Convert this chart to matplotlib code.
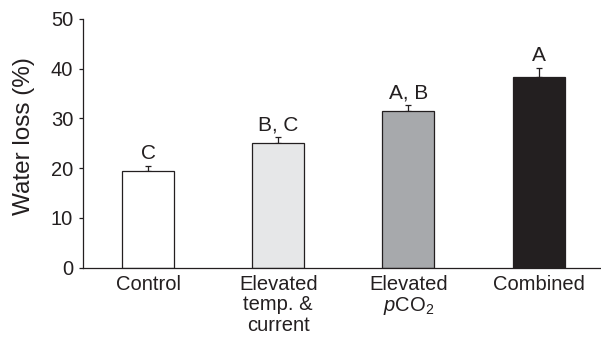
import matplotlib
matplotlib.use('Agg')
import matplotlib.pyplot as plt
import numpy as np

plt.rcParams['font.family'] = ['Liberation Sans', 'DejaVu Sans']
plt.rcParams['mathtext.fontset'] = 'custom'
plt.rcParams['mathtext.rm'] = 'Liberation Sans'
plt.rcParams['mathtext.it'] = 'Liberation Sans:italic'

categories = ['Control', 'Elevated\ntemp. &\ncurrent', 'Elevated\n$\\mathit{p}$CO$_2$', 'Combined']
water_loss = [19.5, 25.0, 31.4, 38.4]
sem = [1.0, 1.3, 1.3, 1.8]
letters = ['C', 'B, C', 'A, B', 'A']
colors = ['#ffffff', '#e6e7e8', '#a7a9ac', '#231f20']
ink = '#231f20'

fig = plt.figure(figsize=(6.01, 3.4), dpi=100)
ax = fig.add_axes([0.138, 0.2126, 0.860, 0.7318])

x = np.arange(len(categories))
ax.bar(x, water_loss, width=0.4, color=colors, edgecolor=ink, linewidth=0.9, zorder=2)
ax.errorbar(x, water_loss, yerr=[np.zeros(len(sem)), sem], fmt='none',
            ecolor=ink, elinewidth=0.9, capsize=2.5, capthick=0.9, zorder=1)

for xi, v, e, lab in zip(x, water_loss, sem, letters):
    ax.annotate(lab, (xi, v + e), xytext=(0, 2), textcoords='offset points',
                ha='center', va='bottom', fontsize=15, color=ink)

ax.set_xlim(-0.5, 3.47)
ax.set_ylim(0, 50)
ax.set_yticks([0, 10, 20, 30, 40, 50])
ax.set_xticks(x)
ax.set_xticklabels(categories, linespacing=1.1)
ax.set_ylabel('Water loss (%)', fontsize=17.5, color=ink)
ax.yaxis.set_label_coords(-0.093, 0.53)

for s in ['top', 'right']:
    ax.spines[s].set_visible(False)
for s in ['left', 'bottom']:
    ax.spines[s].set_color(ink)
    ax.spines[s].set_linewidth(0.9)

ax.tick_params(axis='y', direction='out', length=3, width=0.9, pad=4,
               labelsize=14.5, colors=ink)
ax.tick_params(axis='x', length=0, pad=5, labelsize=14.5, colors=ink)

fig.savefig('out.png', dpi=100)
